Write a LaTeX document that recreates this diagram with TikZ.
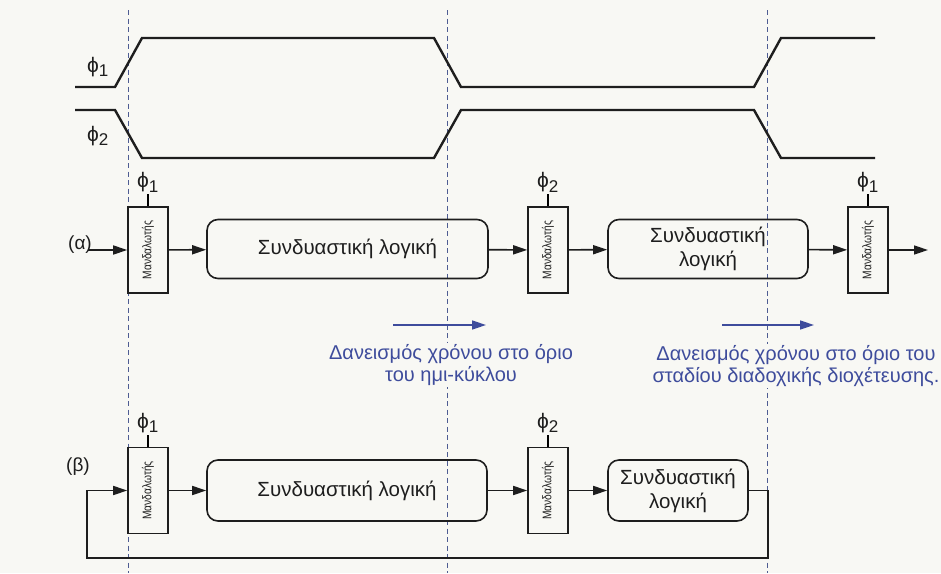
\documentclass[tikz,border=0pt]{standalone}
\usepackage{fontspec}
\setmainfont{Liberation Sans}
\usepackage{graphicx}
\usetikzlibrary{arrows.meta,positioning,calc}
\definecolor{paper}{HTML}{F8F8F4}
\definecolor{ink}{HTML}{1E1E1E}
\definecolor{borrow}{HTML}{3E4C9C}
\definecolor{guide}{HTML}{4E5C92}
\tikzset{
  >={Triangle[length=14pt,width=9pt]},
  every node/.style={text=ink},
  latch/.style={draw=ink,line width=1.6pt,minimum width=40pt,minimum height=86pt,inner sep=0pt,font=\fontsize{12.5}{13}\selectfont},
  logic/.style={draw=ink,line width=1.6pt,rounded corners=11pt,minimum height=59pt,align=center,font=\fontsize{20.5}{24}\selectfont},
  phase/.style={font=\fontsize{21}{22}\selectfont,inner sep=1pt},
  rowlabel/.style={font=\fontsize{19}{22}\selectfont},
  arrow/.style={->,line width=1.6pt,draw=ink},
  wave/.style={line width=2.4pt,draw=ink},
  boundary/.style={draw=guide,line width=1pt,dash pattern=on 5pt off 3.5pt},
  borrowarr/.style={->,line width=1.6pt,draw=borrow},
  borrownote/.style={text=borrow,align=center,font=\fontsize{20}{22.5}\selectfont,inner sep=1pt},
}
\newcommand{\latchtext}{\rotatebox{90}{\scalebox{0.82}[1]{Μανδαλωτής}}}
\newcommand{\ph}[1]{ϕ\textsubscript{\fontsize{17}{17}\selectfont#1}}

\begin{document}
\begin{tikzpicture}[x=1pt,y=-1pt]
\fill[paper] (0,0) rectangle (941,573);
\useasboundingbox (0,0) rectangle (941,573);

% boundaries
\foreach \bx in {128,447,767}
  \draw[boundary] (\bx,10) -- (\bx,573);

% clock phases
\draw[wave] (75,87) -- (115,87) -- (142,38) -- (434,38) -- (461,87) -- (754,87) -- (781,38) -- (875,38);
\draw[wave] (75,110) -- (115,110) -- (142,158) -- (434,158) -- (461,110) -- (754,110) -- (781,158) -- (875,158);
\node[phase] (clkA) at (98,67) {\ph{1}};
\node[phase] (clkB) at (98,136) {\ph{2}};

% (a) pipeline
\node[rowlabel] (rowA) at (80,245) {(α)};
\node[latch] (latch1) at (148,250) {\latchtext};
\node[logic,minimum width=281pt] (cl1) at (347.5,249) {Συνδυαστική λογική};
\node[latch] (latch2) at (548,250) {\latchtext};
\node[logic,minimum width=200pt] (cl2) at (708,249) {Συνδυαστική\\λογική};
\node[latch] (latch3) at (868,250) {\latchtext};
\coordinate (inA) at (88,250);
\coordinate (outA) at (928,250);

\foreach \l/\p in {latch1/1,latch2/2,latch3/1}{
  \draw[line width=1.6pt] (\l.north) -- ++(0,-12) node[phase,above] {\ph{\p}};
}

\draw[arrow] (inA) -- (latch1);
\draw[arrow] (latch1) -- (cl1);
\draw[arrow] (cl1) -- (latch2);
\draw[arrow] (latch2) -- (cl2);
\draw[arrow] (cl2) -- (latch3);
\draw[arrow] (latch3) -- (outA);

% time borrowing
\coordinate (b1s) at (393,325);
\coordinate (b1e) at (486,325);
\coordinate (b2s) at (722,325);
\coordinate (b2e) at (814,325);
\draw[borrowarr] (b1s) -- (b1e);
\draw[borrowarr] (b2s) -- (b2e);
\node[borrownote,fill=paper] (note1) at (451,365) {Δανεισμός χρόνου στο όριο\\του ημι-κύκλου};
\node[borrownote,fill=paper] (note2) at (796,366) {Δανεισμός χρόνου στο όριο του\\σταδίου διαδοχικής διοχέτευσης.};

% (b) loop
\node[rowlabel] (rowB) at (78,467) {(β)};
\node[latch] (latch4) at (148,490.5) {\latchtext};
\node[logic,minimum width=280pt,minimum height=61pt] (cl3) at (347,490.5) {Συνδυαστική λογική};
\node[latch] (latch5) at (548,490.5) {\latchtext};
\node[logic,minimum width=140pt,minimum height=61pt] (cl4) at (678,490.5) {Συνδυαστική\\λογική};
\coordinate (fbR) at (768,558);
\coordinate (fbL) at (87,558);

\foreach \l/\p in {latch4/1,latch5/2}{
  \draw[line width=1.6pt] (\l.north) -- ++(0,-12) node[phase,above] {\ph{\p}};
}

\draw[arrow] (latch4) -- (cl3);
\draw[arrow] (cl3) -- (latch5);
\draw[arrow] (latch5) -- (cl4);
\draw[arrow] (cl4.east) -| (fbR) -- (fbL) |- (latch4.west);

\end{tikzpicture}
\end{document}
